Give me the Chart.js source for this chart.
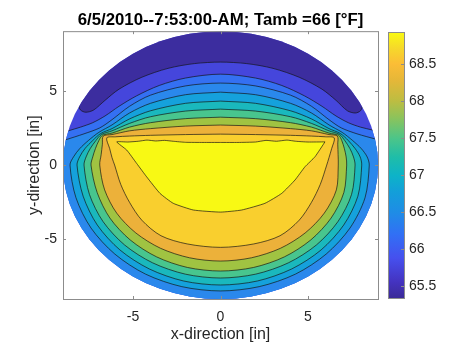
<!DOCTYPE html>
<html>
<head>
<meta charset="utf-8">
<script src="https://cdn.jsdelivr.net/npm/chart.js@4.4.1/dist/chart.umd.min.js"></script>
<style>
    html, body { margin: 0; padding: 0; background: #fff; }
    #wrap { position: relative; width: 449px; height: 344px; }
    #plate { position: absolute; left: 0; top: 0; }
    #cbar { position: absolute; left: 380px; top: 0; }
</style>
</head>
<body>
<div id="wrap">
    <canvas id="plate" width="449" height="344"></canvas>
    <canvas id="cbar" width="69" height="344"></canvas>
</div>
<script>
// ---- data (inches / °F) ----
const titleText = '6/5/2010--7:53:00-AM; Tamb =66 [°F]';
const xTicks = [-5, 0, 5];
const yTicks = [-5, 0, 5];
const plateRadius = 9;
const colorTicks = [65.5, 66, 66.5, 67, 67.5, 68, 68.5];
const colorRange = [65.34, 68.93];

// filled regions, painted bottom to top (outer points lie outside the plate and get clipped)
const plateFill = [[-9.6, -9.6], [9.6, -9.6], [9.6, 9.6], [-9.6, 9.6]];
const coldCap = [[-9.3, 4.4], [-8.2, 4.1], [-8.0, 3.7], [-7.7, 3.55], [-7.25, 3.7], [-6.6, 4.35], [-5.8, 5.1], [-4.5, 5.9],
    [-3.0, 6.5], [-1.5, 6.82], [0, 6.92], [1.5, 6.82], [3.0, 6.5], [4.5, 5.9], [5.8, 5.1], [6.6, 4.35], [7.25, 3.65],
    [7.7, 3.5], [8.0, 3.65], [8.2, 4.05], [9.3, 4.4], [8, 9.6], [-8, 9.6]];
const level2 = [[-9.4, 2.0], [-8.7, 2.3], [-8.0, 2.55], [-7.3, 2.85], [-6.6, 3.3], [-5.8, 3.95], [-4.8, 4.65], [-3.5, 5.35],
    [-2, 5.85], [0, 6.11], [2, 5.85], [3.5, 5.35], [4.8, 4.65], [5.8, 3.95], [6.6, 3.3], [7.3, 2.85], [8.0, 2.55],
    [8.7, 2.35], [9.4, 2.1], [9.6, -3], [7, -9.6], [-7, -9.6], [-9.6, -3]];
const level3 = [[-9.4, 1.5], [-8.85, 1.7], [-7.8, 2.1], [-6.9, 2.5], [-6.2, 3.05], [-5.2, 3.95], [-4, 4.7], [-2, 5.32],
    [0, 5.51], [2, 5.32], [4, 4.7], [5.2, 3.95], [6.2, 3.05], [6.9, 2.5], [7.8, 2.1], [8.85, 1.75], [9.4, 1.55],
    [9.6, -3], [7, -9.6], [-7, -9.6], [-9.6, -3]];
const level4 = [[0, 4.9], [2, 4.73], [4, 4.15], [5.2, 3.5], [6.2, 2.7], [6.95, 2.2], [7.55, 1.65], [8.05, 1.1], [8.38, 0.55],
    [8.5, 0], [8.26, -2.19], [7.4, -4.23], [6.04, -5.98], [4.28, -7.33], [2.21, -8.17], [0, -8.46], [-2.21, -8.17],
    [-4.28, -7.33], [-6.04, -5.98], [-7.4, -4.23], [-8.26, -2.19], [-8.6, 0], [-8.4, 0.55], [-8.05, 1.1], [-7.55, 1.65],
    [-6.95, 2.2], [-6.2, 2.7], [-5.2, 3.5], [-4, 4.15], [-2, 4.73], [0, 4.9]];
const level5 = [[0, 4.3], [2, 4.15], [4, 3.65], [5.2, 3.1], [6.2, 2.45], [6.85, 2.12], [7.3, 1.65], [7.7, 1.1], [7.98, 0.55],
    [8.07, 0], [7.85, -2.09], [7.04, -4.03], [5.75, -5.7], [4.07, -6.98], [2.11, -7.79], [0, -8.06], [-2.11, -7.79],
    [-4.07, -6.98], [-5.75, -5.7], [-7.04, -4.03], [-7.85, -2.09], [-8.2, 0], [-8.05, 0.55], [-7.75, 1.1], [-7.3, 1.65],
    [-6.85, 2.12], [-6.2, 2.45], [-5.2, 3.1], [-4, 3.65], [-2, 4.15], [0, 4.3]];
const level6 = [[0, 3.76], [2, 3.63], [4, 3.25], [5.2, 2.8], [6.2, 2.3], [6.8, 2.06], [7.1, 1.65], [7.4, 1.1], [7.6, 0.55],
    [7.69, 0], [7.49, -1.97], [6.71, -3.8], [5.48, -5.37], [3.88, -6.57], [2.01, -7.33], [0, -7.59], [-2.01, -7.33],
    [-3.88, -6.57], [-5.48, -5.37], [-6.71, -3.8], [-7.49, -1.97], [-7.8, 0], [-7.68, 0.55], [-7.45, 1.1], [-7.12, 1.65],
    [-6.8, 2.06], [-6.2, 2.3], [-5.2, 2.8], [-4, 3.25], [-2, 3.63], [0, 3.76]];
const level7 = [[0, 3.22], [2, 3.12], [4, 2.85], [5.2, 2.55], [6.2, 2.15], [6.75, 2.0], [6.93, 1.65], [7.08, 1.1], [7.18, 0.55],
    [7.21, 0], [7.05, -1.84], [6.32, -3.56], [5.16, -5.03], [3.65, -6.17], [1.89, -6.88], [0, -7.12], [-1.89, -6.88],
    [-3.65, -6.17], [-5.16, -5.03], [-6.32, -3.56], [-7.05, -1.84], [-7.4, 0], [-7.3, 0.55], [-7.15, 1.1], [-6.95, 1.65],
    [-6.75, 2.0], [-6.2, 2.15], [-5.2, 2.55], [-4, 2.85], [-2, 3.12], [0, 3.22]];
const level8 = [[0, 2.69], [2, 2.62], [4, 2.45], [5.2, 2.3], [6.2, 2.05], [6.68, 1.95], [6.7, 1.4], [6.72, 0.7], [6.73, 0],
    [6.62, -1.67], [5.93, -3.23], [4.84, -4.56], [3.43, -5.59], [1.77, -6.23], [0, -6.45], [-1.77, -6.23], [-3.43, -5.59],
    [-4.84, -4.56], [-5.93, -3.23], [-6.62, -1.67], [-6.9, 0], [-6.82, 0.7], [-6.75, 1.4], [-6.7, 1.95], [-6.2, 2.05],
    [-5.2, 2.3], [-4, 2.45], [-2, 2.62], [0, 2.69]];
const level9 = [[0, 2.08], [2, 2.05], [4, 2.0], [5.2, 1.95], [6.0, 1.9], [6.5, 1.83], [6.35, 1.1], [6.2, 0.5], [6.07, 0],
    [5.7, -1.3], [5.2, -2.5], [4.5, -3.7], [3.4, -4.75], [1.9, -5.3], [0, -5.53], [-1.9, -5.3], [-3.4, -4.75], [-4.5, -3.7],
    [-5.2, -2.5], [-5.7, -1.3], [-6.05, 0], [-6.2, 0.5], [-6.33, 1.1], [-6.5, 1.83], [-6.0, 1.9], [-5.2, 1.95], [-4, 2.0],
    [-2, 2.05], [0, 2.08]];
const level10 = [[5.97, 1.56], [5.0, 1.55], [4.3, 1.6], [3.8, 1.68], [3.2, 1.6], [2.6, 1.66], [2.0, 1.55], [1.0, 1.52], [0, 1.52],
    [-1.0, 1.52], [-2.0, 1.53], [-2.7, 1.6], [-3.2, 1.66], [-3.7, 1.62], [-4.2, 1.68], [-4.7, 1.6], [-5.3, 1.55], [-5.93, 1.56],
    [-5.36, 1.01], [-4.79, 0.11], [-4.22, -0.79], [-3.46, -1.9], [-2.7, -2.57], [-1.55, -3.02], [0, -3.16], [1.21, -3.02],
    [2.54, -2.57], [3.5, -1.9], [4.26, -1.0], [4.83, -0.11], [5.4, 0.56], [5.97, 1.56]];

const regions = [plateFill, coldCap, level2, level3, level4, level5, level6, level7, level8, level9, level10];
const regionColors = ['#4546dc', '#3c2d9f', '#3470f2', '#2a88ec', '#15a1dc', '#1ab8bd', '#48c58e', '#a0c342',
    '#ecb13a', '#f9cf2e', '#f8f914'];
const parulaStops = [[0, '#3b2a98'], [0.06, '#4433c0'], [0.15, '#4650ee'], [0.24, '#3170f5'], [0.32, '#1f8ce6'],
    [0.40, '#139fd9'], [0.46, '#0db3c8'], [0.53, '#1fbda8'], [0.60, '#4cc589'], [0.68, '#8ec35a'], [0.74, '#bcbd42'],
    [0.82, '#e6b738'], [0.88, '#fbbd36'], [0.94, '#f6d92a'], [1, '#f9fb12']];

Chart.defaults.font.family = "'Liberation Sans', Arial, Helvetica, sans-serif";
Chart.defaults.color = '#262626';

const tickFont = { size: 14 };
const labelFont = { size: 16 };

const plateClip = {
    id: 'plateClip',
    beforeDatasetsDraw(chart) {
        const { ctx, scales: { x, y } } = chart;
        const cx = x.getPixelForValue(0), cy = y.getPixelForValue(0);
        ctx.save();
        ctx.beginPath();
        ctx.ellipse(cx, cy, Math.abs(x.getPixelForValue(plateRadius) - cx), Math.abs(y.getPixelForValue(plateRadius) - cy), 0, 0, Math.PI * 2);
        ctx.clip();
    },
    afterDatasetsDraw(chart) { chart.ctx.restore(); }
};

const frame = {
    id: 'frame',
    afterDraw(chart) {
        const { ctx, chartArea: a, scales: { x, y } } = chart;
        ctx.save();
        ctx.strokeStyle = '#8c8c8c';
        ctx.lineWidth = 1;
        ctx.strokeRect(a.left + 0.5, a.top + 0.5, a.width, a.height);
        ctx.beginPath();
        xTicks.forEach(v => {
            const px = Math.round(x.getPixelForValue(v)) + 0.5;
            ctx.moveTo(px, a.bottom); ctx.lineTo(px, a.bottom - 3);
            ctx.moveTo(px, a.top); ctx.lineTo(px, a.top + 3);
        });
        yTicks.forEach(v => {
            const py = Math.round(y.getPixelForValue(v)) + 0.5;
            ctx.moveTo(a.left, py); ctx.lineTo(a.left + 3, py);
            ctx.moveTo(a.right, py); ctx.lineTo(a.right - 3, py);
        });
        ctx.stroke();
        ctx.restore();
    }
};

new Chart(document.getElementById('plate'), {
    type: 'scatter',
    data: {
        datasets: regions.map((pts, i) => ({
            data: pts.map(([x, y]) => ({ x, y })),
            showLine: true,
            fill: 'shape',
            backgroundColor: regionColors[i],
            borderColor: i === 0 ? 'transparent' : 'rgba(20,20,20,0.85)',
            borderWidth: i === 0 ? 0 : 0.8,
            tension: i === 10 ? 0.15 : 0.3,
            pointRadius: 0,
            pointHoverRadius: 0,
            order: -i
        }))
    },
    options: {
        responsive: false,
        animation: false,
        events: [],
        layout: { padding: { left: 0, right: 71, top: 0, bottom: 0 } },
        plugins: {
            legend: { display: false },
            tooltip: { enabled: false },
            title: {
                display: true,
                text: titleText,
                fullSize: false,
                color: '#000',
                font: { size: 16.8, weight: 'bold' },
                padding: { top: 10, bottom: 1 }
            }
        },
        scales: {
            x: {
                type: 'linear', min: -plateRadius, max: plateRadius,
                afterFit: s => { s.height = 45; },
                afterBuildTicks: s => { s.ticks = xTicks.map(v => ({ value: v })); },
                grid: { display: false, drawTicks: false },
                border: { display: false },
                ticks: { font: tickFont, padding: 10, callback: v => String(v) },
                title: { display: true, text: 'x-direction [in]', font: labelFont, padding: { top: 0, bottom: 0 } }
            },
            y: {
                type: 'linear', min: -plateRadius, max: plateRadius,
                afterFit: s => { s.width = 63; },
                afterBuildTicks: s => { s.ticks = yTicks.map(v => ({ value: v })); },
                grid: { display: false, drawTicks: false },
                border: { display: false },
                ticks: { font: tickFont, padding: 6, callback: v => String(v) },
                title: { display: true, text: 'y-direction [in]', font: labelFont, padding: { top: 25, bottom: 0 } }
            }
        }
    },
    plugins: [plateClip, frame]
});

const cbarFrame = {
    id: 'cbarFrame',
    afterDraw(chart) {
        const { ctx, chartArea: a, scales: { y } } = chart;
        ctx.save();
        ctx.strokeStyle = '#8c8c8c';
        ctx.lineWidth = 1;
        ctx.strokeRect(a.left + 0.5, a.top + 0.5, a.width, a.height);
        ctx.beginPath();
        colorTicks.forEach(v => {
            const py = Math.round(y.getPixelForValue(v)) + 0.5;
            ctx.moveTo(a.right, py); ctx.lineTo(a.right - 3, py);
        });
        ctx.stroke();
        ctx.restore();
    }
};

new Chart(document.getElementById('cbar'), {
    type: 'bar',
    data: {
        labels: [''],
        datasets: [{
            data: [colorRange],
            barPercentage: 1,
            categoryPercentage: 1,
            borderWidth: 0,
            backgroundColor: c => {
                const { chart } = c;
                const a = chart.chartArea;
                if (!a) return null;
                const y = chart.scales.y;
                const g = chart.ctx.createLinearGradient(0, y.getPixelForValue(colorRange[0]), 0, y.getPixelForValue(colorRange[1]));
                parulaStops.forEach(([f, col]) => g.addColorStop(f, col));
                return g;
            }
        }]
    },
    options: {
        responsive: false,
        animation: false,
        events: [],
        layout: { padding: { left: 8, right: 0, top: 32, bottom: 46 } },
        plugins: { legend: { display: false }, tooltip: { enabled: false } },
        scales: {
            x: { display: false },
            y: {
                position: 'right', min: colorRange[0], max: colorRange[1],
                afterFit: s => { s.width = 45; },
                afterBuildTicks: s => { s.ticks = colorTicks.map(v => ({ value: v })); },
                grid: { display: false, drawTicks: false },
                border: { display: false },
                ticks: { font: tickFont, padding: 5, callback: v => String(v) }
            }
        }
    },
    plugins: [cbarFrame]
});
</script>
</body>
</html>
